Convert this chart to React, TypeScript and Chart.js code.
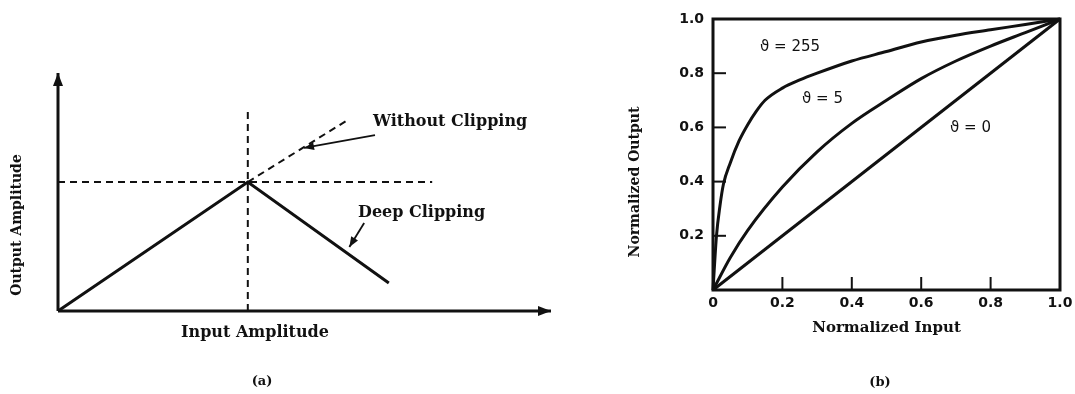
import React, { useEffect, useRef } from "react";
import { Chart, registerables } from "chart.js";
Chart.register(...registerables);

// ---------- Panel (a): clipping diagram (arbitrary units 0..100) ----------
const clipInput = [0, 38.5, 67.1];
const clipOutput = [0, 54.2, 11.8];
const thresholdInput = [0, 75.9];
const thresholdOutput = [54.2, 54.2];
const peakInput = [38.5, 38.5];
const peakOutput = [0, 83.6];
const unclippedInput = [38.5, 58.8];
const unclippedOutput = [54.2, 80.3];
const axisHInput = [0, 100];
const axisHOutput = [0, 0];
const axisVInput = [0, 0];
const axisVOutput = [0, 100];
const noteWithoutFrom = [64.3, 73.9];
const noteWithoutTo = [49.9, 68.5];
const noteDeepFrom = [62.1, 37.0];
const noteDeepTo = [59.1, 26.9];

// ---------- Panel (b): companding curves ----------
const input255 = [0, 0.01, 0.02, 0.03, 0.05, 0.075, 0.1, 0.125, 0.15, 0.2, 0.25, 0.3, 0.4, 0.5, 0.6, 0.7, 0.8, 0.9, 1.0];
const output255 = [0, 0.2, 0.31, 0.39, 0.47, 0.55, 0.61, 0.66, 0.7, 0.745, 0.775, 0.8, 0.845, 0.88, 0.915, 0.94, 0.96, 0.98, 1.0];
const input5 = [0, 0.05, 0.1, 0.2, 0.3, 0.4, 0.5, 0.6, 0.7, 0.8, 0.9, 1.0];
const output5 = [0, 0.12, 0.22, 0.38, 0.51, 0.615, 0.7, 0.78, 0.845, 0.9, 0.95, 1.0];
const input0 = [0, 1.0];
const output0 = [0, 1.0];
const innerTicks = [0.2, 0.4, 0.6, 0.8];
const curveLabels = ["\u03D1 = 255", "\u03D1 = 5", "\u03D1 = 0"];

const INK = "#111";
const pts = (xs: number[], ys: number[]) => xs.map((x, i) => ({ x, y: ys[i] }));

function arrowHead(ctx: CanvasRenderingContext2D, fx: number, fy: number, tx: number, ty: number, len: number, half: number) {
  const a = Math.atan2(ty - fy, tx - fx);
  ctx.save();
  ctx.translate(tx, ty);
  ctx.rotate(a);
  ctx.beginPath();
  ctx.moveTo(0, 0);
  ctx.lineTo(-len, -half);
  ctx.lineTo(-len, half);
  ctx.closePath();
  ctx.fillStyle = INK;
  ctx.fill();
  ctx.restore();
}

function PanelA() {
  const ref = useRef<HTMLCanvasElement>(null);
  useEffect(() => {
    const line = (data: any, width: number, dash: number[] = []) => ({
      data,
      showLine: true,
      borderColor: INK,
      borderWidth: width,
      borderDash: dash,
      pointRadius: 0,
      clip: false as any,
      tension: 0,
    });
    const annot = {
      id: "annotA",
      afterDatasetsDraw(chart: any) {
        const { ctx, scales } = chart;
        const px = (x: number) => scales.x.getPixelForValue(x);
        const py = (y: number) => scales.y.getPixelForValue(y);
        // axis arrowheads
        arrowHead(ctx, px(0), py(0), px(axisHInput[1]), py(axisHOutput[1]), 13, 5);
        arrowHead(ctx, px(0), py(0), px(axisVInput[1]), py(axisVOutput[1]), 13, 5);
        // annotation arrows
        const notes = [[noteWithoutFrom, noteWithoutTo], [noteDeepFrom, noteDeepTo]];
        ctx.save();
        ctx.strokeStyle = INK;
        ctx.lineWidth = 1.8;
        for (const [f, t] of notes) {
          ctx.beginPath();
          ctx.moveTo(px(f[0]), py(f[1]));
          ctx.lineTo(px(t[0]), py(t[1]));
          ctx.stroke();
          arrowHead(ctx, px(f[0]), py(f[1]), px(t[0]), py(t[1]), 10, 4);
        }
        ctx.fillStyle = INK;
        ctx.textBaseline = "middle";
        ctx.font = "bold 16px 'DejaVu Serif'";
        ctx.textAlign = "left";
        ctx.fillText("Without Clipping", 373, 122);
        ctx.fillText("Deep Clipping", 358, 213);
        ctx.textAlign = "center";
        ctx.fillText("Input Amplitude", 255, 333);
        ctx.font = "bold 13px 'DejaVu Serif'";
        ctx.fillText("(a)", 262, 382);
        ctx.save();
        ctx.translate(17, 225);
        ctx.rotate(-Math.PI / 2);
        ctx.font = "bold 14px 'DejaVu Serif'";
        ctx.fillText("Output Amplitude", 0, 0);
        ctx.restore();
        ctx.restore();
      },
    };
    const chart = new Chart(ref.current!, {
      type: "scatter",
      data: {
        datasets: [
          line(pts(axisHInput, axisHOutput), 3),
          line(pts(axisVInput, axisVOutput), 3),
          line(pts(clipInput, clipOutput), 3),
          line(pts(thresholdInput, thresholdOutput), 2, [7, 5]),
          line(pts(peakInput, peakOutput), 2, [7, 5]),
          line(pts(unclippedInput, unclippedOutput), 2, [7, 5]),
        ],
      },
      options: {
        animation: false,
        responsive: false,
        devicePixelRatio: 1,
        layout: { padding: { left: 58, top: 73, right: 29, bottom: 83 } },
        plugins: { legend: { display: false }, tooltip: { enabled: false } },
        scales: {
          x: { type: "linear", min: 0, max: 100, display: false },
          y: { type: "linear", min: 0, max: 100, display: false },
        },
      },
      plugins: [annot],
    });
    return () => chart.destroy();
  }, []);
  return <canvas ref={ref} width={580} height={394} style={{ position: "absolute", left: 0, top: 0 }} />;
}

function PanelB() {
  const ref = useRef<HTMLCanvasElement>(null);
  useEffect(() => {
    const curve = (data: any) => ({
      data,
      showLine: true,
      borderColor: INK,
      borderWidth: 3,
      pointRadius: 0,
      cubicInterpolationMode: "monotone" as const,
      clip: false as any,
    });
    const frame = {
      id: "frameB",
      afterDatasetsDraw(chart: any) {
        const { ctx, chartArea: a, scales } = chart;
        ctx.save();
        ctx.strokeStyle = INK;
        ctx.lineWidth = 3;
        ctx.strokeRect(a.left, a.top, a.right - a.left, a.bottom - a.top);
        ctx.lineWidth = 2;
        for (const v of innerTicks) {
          const x = scales.x.getPixelForValue(v);
          ctx.beginPath();
          ctx.moveTo(x, a.bottom);
          ctx.lineTo(x, a.bottom - 13);
          ctx.stroke();
          const y = scales.y.getPixelForValue(v);
          ctx.beginPath();
          ctx.moveTo(a.left, y);
          ctx.lineTo(a.left + 13, y);
          ctx.stroke();
        }
        ctx.fillStyle = INK;
        ctx.textBaseline = "middle";
        ctx.textAlign = "left";
        ctx.font = "15px 'DejaVu Sans'";
        ctx.fillText(curveLabels[0], 180, 47);
        ctx.fillText(curveLabels[1], 222, 99);
        ctx.fillText(curveLabels[2], 370, 128);
        ctx.textAlign = "center";
        ctx.font = "bold 13px 'DejaVu Serif'";
        ctx.fillText("(b)", 300, 383);
        ctx.save();
        ctx.translate(55, 182);
        ctx.rotate(-Math.PI / 2);
        ctx.font = "bold 14px 'DejaVu Serif'";
        ctx.fillText("Normalized Output", 0, 0);
        ctx.restore();
        ctx.restore();
      },
    };
    const chart = new Chart(ref.current!, {
      type: "scatter",
      data: {
        datasets: [
          curve(pts(input255, output255)),
          curve(pts(input5, output5)),
          curve(pts(input0, output0)),
        ],
      },
      options: {
        animation: false,
        responsive: false,
        devicePixelRatio: 1,
        layout: { padding: { left: 40, top: 19, right: 15, bottom: 56 } },
        plugins: { legend: { display: false }, tooltip: { enabled: false } },
        scales: {
          x: {
            type: "linear",
            min: 0,
            max: 1,
            afterFit: (s: any) => { s.height = 48; s.paddingRight = 0; s.paddingLeft = 0; },
            grid: { display: false, drawTicks: false },
            border: { display: false },
            ticks: {
              stepSize: 0.2,
              padding: 5,
              maxRotation: 0,
              autoSkip: false,
              color: INK,
              font: { family: "DejaVu Sans", weight: "bold", size: 14 },
              callback: (v: any) => (Number(v) === 0 ? "0" : Number(v).toFixed(1)),
            },
            title: {
              display: true,
              text: "Normalized Input",
              color: INK,
              font: { family: "DejaVu Serif", weight: "bold", size: 15 },
              padding: { top: 0, bottom: 1 },
            },
          },
          y: {
            type: "linear",
            min: 0,
            max: 1,
            afterFit: (s: any) => { s.width = 93; s.paddingTop = 0; s.paddingBottom = 0; },
            grid: { display: false, drawTicks: false },
            border: { display: false },
            ticks: {
              stepSize: 0.2,
              padding: 9,
              autoSkip: false,
              color: INK,
              font: { family: "DejaVu Sans", weight: "bold", size: 14 },
              callback: (v: any) => (Number(v) === 0 ? null : Number(v).toFixed(1)),
            },
          },
        },
      },
      plugins: [frame],
    });
    return () => chart.destroy();
  }, []);
  return <canvas ref={ref} width={495} height={394} style={{ position: "absolute", left: 580, top: 0 }} />;
}

export default function App() {
  return (
    <div style={{ position: "fixed", left: 0, top: 0, width: 1075, height: 394, background: "#fff", overflow: "hidden" }}>
      <PanelA />
      <PanelB />
    </div>
  );
}
